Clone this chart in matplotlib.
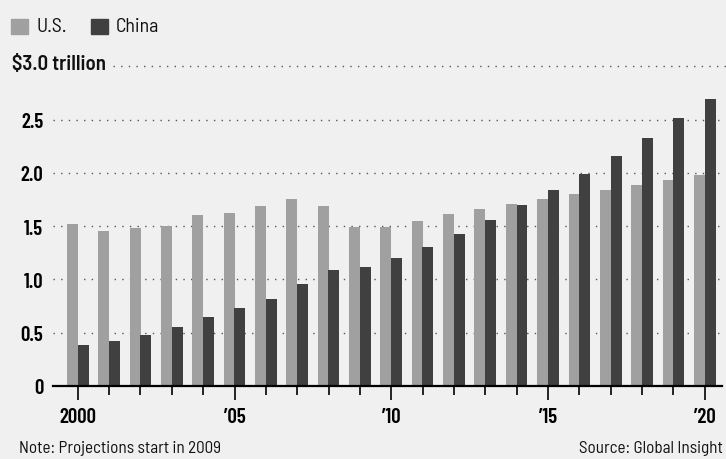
import matplotlib
matplotlib.use("Agg")
import matplotlib.pyplot as plt
from matplotlib.patches import Rectangle
import numpy as np

years = np.arange(2000, 2021)
us = [1.52, 1.45, 1.48, 1.50, 1.60, 1.625, 1.69, 1.75, 1.69, 1.49,
      1.49, 1.55, 1.615, 1.66, 1.71, 1.756, 1.80, 1.84, 1.89, 1.934, 1.98]
china = [0.38, 0.425, 0.48, 0.556, 0.65, 0.734, 0.82, 0.96, 1.09, 1.12,
         1.20, 1.306, 1.43, 1.56, 1.70, 1.84, 1.99, 2.16, 2.33, 2.51, 2.69]
year_ticks = [2000, 2005, 2010, 2015, 2020]
year_labels = ["2000", "\u201905", "\u201910", "\u201915", "\u201920"]
y_ticks = [0, 0.5, 1.0, 1.5, 2.0, 2.5]
y_labels = ["0", "0.5", "1.0", "1.5", "2.0", "2.5"]
series = ["U.S.", "China"]

US_COLOR = "#a0a0a0"
CN_COLOR = "#404040"
BG = "#f0f0f0"
GRID = "#555555"

plt.rcParams["font.family"] = ["Barlow Semi Condensed", "DejaVu Sans"]
plt.rcParams["text.color"] = "#111111"
TICK_FONT = ["Barlow Condensed", "DejaVu Sans"]


def main():
  W, H = 726, 460
  fig = plt.figure(figsize=(W / 100, H / 100), dpi=100, facecolor=BG)
  ax = fig.add_axes([53 / W, 73 / H, 669 / W, 319.8 / H], facecolor=BG)

  w = 0.35
  ax.bar(years - 0.17, us, width=w, color=US_COLOR, zorder=2)
  ax.bar(years + 0.17, china, width=w, color=CN_COLOR, zorder=2)

  dots = (0, (1, 4.5))
  for v in y_ticks[1:]:
    ax.axhline(v, color=GRID, lw=1, linestyle=dots, zorder=1)
  ax.axhline(3.0, xmin=(113 - 53) / 669, xmax=1.01, color=GRID, lw=1,
             linestyle=dots, zorder=1, clip_on=False)

  ax.set_xlim(1999.21, 2020.55)
  ax.set_ylim(0, 3.0)

  for s in ["top", "right", "left"]:
    ax.spines[s].set_visible(False)
  ax.spines["bottom"].set_linewidth(1.6)
  ax.spines["bottom"].set_zorder(3)

  ax.set_xticks(year_ticks)
  ax.set_xticklabels(year_labels, fontsize=15, fontweight=600, family=TICK_FONT)
  ax.set_xticks(years, minor=True)
  ax.tick_params(axis="x", which="major", length=10, width=1.2, pad=5)
  ax.tick_params(axis="x", which="minor", length=6.5, width=1.2)

  ax.set_yticks(y_ticks)
  ax.set_yticklabels(y_labels, fontsize=15, fontweight=600, family=TICK_FONT)
  ax.tick_params(axis="y", length=0, pad=7)

  fig.text(12 / W, 1 - 65 / H, "$3.0 trillion", fontsize=15,
           fontweight=600, va="center", ha="left")

  # legend drawn by hand to sit like the original
  for (x0, tx), name, col in zip([(11, 36), (91, 116)], series,
                                 [US_COLOR, CN_COLOR]):
    fig.add_artist(Rectangle((x0 / W, 1 - 34.5 / H), 17 / W, 15 / H,
                             transform=fig.transFigure, color=col))
    fig.text(tx / W, 1 - 27 / H, name, fontsize=14.3, va="center", ha="left")

  fig.text(19 / W, 1 - 449 / H, "Note: Projections start in 2009",
           fontsize=12.3, va="center", ha="left")
  fig.text(1 - 3 / W, 1 - 449 / H, "Source: Global Insight",
           fontsize=12.3, va="center", ha="right")

  fig.savefig("out.png", dpi=100, facecolor=BG)


if __name__ == "__main__":
  main()
